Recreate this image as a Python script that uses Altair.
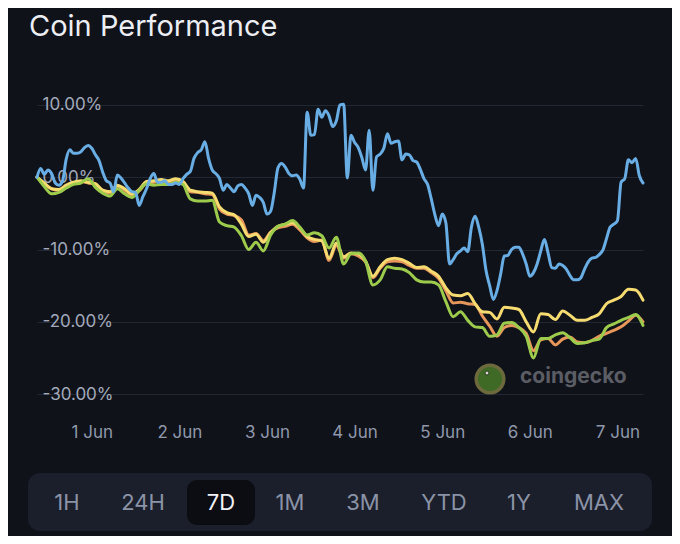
import altair as alt
import pandas as pd

# ---------------- data ----------------
title_text = "Coin Performance"
y_ticks = [10, 0, -10, -20, -30]
day_ticks = [1, 2, 3, 4, 5, 6, 7]          # June days labelled on the x axis
buttons = ["1H", "24H", "7D", "1M", "3M", "YTD", "1Y", "MAX"]
selected_button = "7D"
watermark_text = "coingecko"

# blue series, hourly from 31 May 09:00
blue = [
    0.0, 1.2, 0.4, 1.0, 0.5, -0.8, -1.1, -0.5, 2.5, 3.8,
    3.3, 3.3, 3.5, 4.1, 4.4, 4.0, 3.1, 2.3, 0.7, -0.5,
    -0.8, -2.0, 0.3, -0.1, -0.8, -1.5, -2.0, -2.1, -3.9, -2.7,
    -1.6, -0.2, 0.5, -0.7, -0.7, -0.5, -1.0, -1.0, -0.8, -1.0,
    -0.2, 0.4, 0.8, 2.6, 3.4, 3.8, 4.9, 2.6, 1.0, 0.5,
    -0.2, -1.8, -1.0, -1.5, -2.0, -1.2, -1.0, -1.5, -2.3, -3.9,
    -2.5, -2.8, -3.5, -5.1, -4.7, -2.1, 1.3, 1.9, 1.4, 0.5,
    0.2, 0.3, -0.3, -1.5, 9.0, 5.8, 5.9, 9.4, 8.3, 9.2,
    8.5, 7.0, 7.8, 10.0, 10.1, -0.1, 5.8, 4.8, 4.1, 2.7,
    1.0, 6.5, -1.8, 2.8, 3.2, 4.0, 6.0, 4.7, 4.9, 5.0,
    2.4, 3.2, 3.1, 2.3, 2.1, 1.1, -0.2, -1.0, -3.0, -5.2,
    -6.7, -5.1, -6.3, -12.0, -11.4, -10.6, -10.2, -9.8, -10.3, -6.9,
    -5.4, -6.9, -9.3, -12.9, -15.0, -16.9, -15.7, -13.4, -10.9, -10.8,
    -10.0, -9.7, -9.7, -10.6, -12.0, -13.7, -13.2, -12.0, -10.2, -8.6,
    -10.5, -12.5, -12.6, -12.0, -12.2, -12.7, -13.6, -14.2, -14.2, -13.9,
    -12.7, -11.7, -11.2, -11.1, -10.7, -10.1, -8.5, -6.9, -6.5, -6.0,
    -0.7, -0.2, 2.4, 2.0, 2.6, 0.2, -0.8,
]

# the other three series, every two hours from 31 May 09:00
yellow = [
    0.0, -0.8, -1.6, -1.7, -1.1, -0.7, -0.5, -0.7, -0.9, -1.8,
    -2.0, -1.1, -1.6, -2.3, -1.7, -0.6, -0.5, -0.3, -0.5, -0.2,
    -0.6, -1.8, -2.0, -2.1, -2.2, -4.1, -4.9, -5.2, -6.5, -8.2,
    -7.9, -9.0, -7.7, -6.8, -6.5, -6.3, -7.0, -8.2, -8.6, -8.8,
    -11.2, -9.1, -11.0, -10.5, -10.6, -11.6, -13.7, -12.4, -11.4, -11.2,
    -11.4, -11.9, -12.5, -12.4, -13.0, -13.7, -15.3, -16.3, -16.4, -16.1,
    -17.5, -18.6, -18.7, -19.6, -18.0, -18.1, -18.3, -20.0, -21.4, -18.9,
    -19.0, -19.7, -18.5, -19.1, -19.8, -19.8, -19.4, -18.9, -17.5, -17.0,
    -16.5, -15.5, -15.6, -17.0,
]
orange = [
    0.0, -0.9, -1.6, -1.8, -1.3, -0.8, -0.6, -0.8, -1.0, -1.9,
    -2.2, -1.3, -1.8, -2.5, -1.9, -0.8, -0.7, -0.5, -0.7, -0.4,
    -0.8, -2.0, -2.1, -2.3, -2.4, -4.4, -5.1, -5.3, -5.9, -8.0,
    -7.8, -8.8, -7.6, -7.0, -6.8, -6.5, -7.3, -8.4, -8.9, -8.7,
    -11.5, -9.4, -11.2, -10.6, -10.9, -11.7, -13.9, -12.6, -11.7, -11.6,
    -11.7, -12.2, -12.6, -12.6, -13.2, -14.0, -15.7, -17.4, -17.3, -17.5,
    -17.6, -19.2, -20.6, -22.0, -20.8, -20.5, -20.8, -21.6, -24.0, -22.5,
    -22.3, -23.2, -22.4, -22.1, -22.8, -22.9, -22.6, -22.0, -21.6, -21.2,
    -20.7, -19.9, -19.1, -20.0,
]
green = [
    0.0, -1.3, -2.3, -2.1, -1.5, -1.0, -0.8, -0.2, -1.4, -2.2,
    -2.6, -1.6, -2.3, -2.8, -1.8, -0.9, -1.1, -1.0, -1.0, -0.7,
    -1.0, -3.0, -3.3, -3.3, -3.2, -6.2, -6.7, -6.9, -8.1, -10.0,
    -9.0, -10.2, -8.0, -6.8, -6.5, -6.0, -6.9, -8.0, -7.7, -8.1,
    -9.8, -8.3, -12.0, -10.6, -10.5, -11.6, -14.9, -14.2, -12.4, -12.6,
    -12.7, -13.2, -14.2, -14.5, -14.5, -14.9, -17.2, -19.3, -18.6, -19.8,
    -20.7, -20.8, -22.0, -21.8, -20.2, -20.1, -20.8, -22.0, -25.0, -22.3,
    -22.3, -21.8, -21.5, -22.2, -23.0, -22.9, -22.6, -22.4, -20.8, -20.3,
    -19.8, -19.4, -19.0, -20.5,
]

start = pd.Timestamp("2024-05-31 09:00")
t_hourly = pd.date_range(start, periods=len(blue), freq="h")
t_2h = pd.date_range(start, periods=len(yellow), freq="2h")

# ---------------- style ----------------
BG = "#10121a"
FONT = "Inter"
LINE_W = 3.0
colors = {"orange": "#e8975a", "yellow": "#f6dc70", "green": "#9dcc4d", "blue": "#68ade4"}

x_scale = alt.Scale(
    domain=[alt.DateTime(year=2024, month=5, date=31, hours=9),
            alt.DateTime(year=2024, month=6, date=7, hours=7)],
    nice=False,
)
y_scale = alt.Scale(domain=[-34, 14], nice=False, zero=False)

x_axis = alt.Axis(
    values=[alt.DateTime(year=2024, month=6, date=d) for d in day_ticks],
    format="%-d %b", title=None, grid=False, domain=False, ticks=False, tickSize=0,
    labelPadding=1, labelFontSize=17, labelColor="#8f98ab", labelFont=FONT,
    labelFlush=False, labelOverlap=False,
)
y_axis = alt.Axis(
    values=y_ticks, title=None, domain=False, ticks=False, tickSize=0,
    labelExpr="replace(format(datum.value, '.2f'), '\u2212', '-') + '%'",
    labelAlign="left", labelBaseline="middle", labelPadding=-5,
    labelFontSize=17, labelColor="#a3aabb", labelFont=FONT,
    grid=True, gridColor="#222734", gridWidth=1,
)


def series_layer(times, vals, color):
    df = pd.DataFrame({"t": times, "v": vals})
    return alt.Chart(df).mark_line(
        color=color, strokeWidth=LINE_W, interpolate="monotone",
        strokeCap="round", strokeJoin="round",
    ).encode(
        x=alt.X("t:T", scale=x_scale, axis=x_axis),
        y=alt.Y("v:Q", scale=y_scale, axis=y_axis),
    )


lines = [
    series_layer(t_2h, orange, colors["orange"]),
    series_layer(t_2h, yellow, colors["yellow"]),
    series_layer(t_2h, green, colors["green"]),
    series_layer(t_hourly, blue, colors["blue"]),
]

one = pd.DataFrame({"k": [0]})

title = alt.Chart(pd.DataFrame({"text": [title_text]})).mark_text(
    align="left", baseline="alphabetic", fontSize=29, font=FONT,
    fontWeight=400, color="#eceef3",
).encode(x=alt.value(-8), y=alt.value(-40), text="text:N")

# watermark
logo = alt.Chart(one).mark_point(
    shape="circle", filled=True, size=760, fill="#3e6a25",
    stroke="#6c6a3d", strokeWidth=3.5, opacity=1,
).encode(x=alt.value(453), y=alt.value(303))
logo_eye = alt.Chart(one).mark_point(
    shape="circle", filled=True, size=16, fill="#d8d8d0", stroke="#2a3a1c",
    strokeWidth=1, opacity=1,
).encode(x=alt.value(450), y=alt.value(297))
wm_text = alt.Chart(pd.DataFrame({"text": [watermark_text]})).mark_text(
    align="left", baseline="middle", fontSize=21, fontWeight="bold",
    font=FONT, color="#5b5d65",
).encode(x=alt.value(483), y=alt.value(301), text="text:N")

# range selector bar
bar = alt.Chart(one).mark_rect(cornerRadius=12, color="#1b1f2b").encode(
    x=alt.value(-9), x2=alt.value(615), y=alt.value(397), y2=alt.value(455))
sel = alt.Chart(one).mark_rect(cornerRadius=10, color="#0b0d13").encode(
    x=alt.value(150), x2=alt.value(218), y=alt.value(404), y2=alt.value(449))

button_x = [30, 106, 184, 253, 326, 407, 482, 562]
button_layers = []
for lab, bx in zip(buttons, button_x):
    button_layers.append(
        alt.Chart(pd.DataFrame({"text": [lab]})).mark_text(
            align="center", baseline="middle", fontSize=22, font=FONT,
            color="#f2f2f5" if lab == selected_button else "#8b93a7",
        ).encode(x=alt.value(bx), y=alt.value(427), text="text:N")
    )

chart = alt.layer(
    *lines, title, logo, logo_eye, wm_text, bar, sel, *button_layers
).properties(
    width=606, height=347,
    autosize=alt.AutoSizeParams(type="none"),
    padding={"left": 29, "top": 68, "right": 29, "bottom": 113},
    background=BG,
).configure_view(strokeWidth=0)

chart.save("out.html", embed_options={"renderer": "svg", "actions": False})
